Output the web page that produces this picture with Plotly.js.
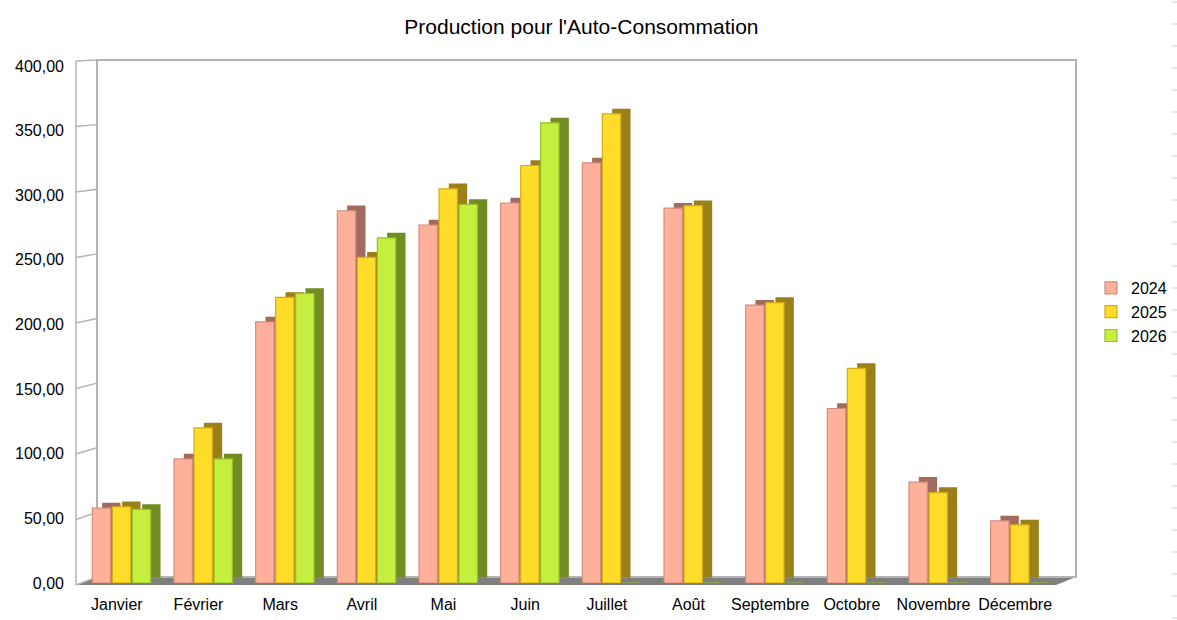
<!DOCTYPE html>
<html>
<head>
<meta charset="utf-8">
<script src="https://cdn.plot.ly/plotly-3.0.1.min.js"></script>
<style>
  html, body { margin: 0; padding: 0; background: #fff; }
  #plot1 { width: 1177px; height: 620px; }
</style>
</head>
<body>
<div id="plot1"></div>
<script>
  var months = ['Janvier', 'Février', 'Mars', 'Avril', 'Mai', 'Juin', 'Juillet', 'Août', 'Septembre', 'Octobre', 'Novembre', 'Décembre'];
  var years = ['2024', '2025', '2026'];

  var prod2024 = [58, 96, 202, 288, 277, 294, 325, 290, 215, 135, 78, 48];
  var prod2025 = [59, 120, 221, 252, 305, 323, 363, 292, 217, 166, 70, 45];
  var prod2026 = [57, 96, 224, 267, 293, 356, 0, 0, 0, 0, 0, 0];

  var yTicks = [0, 50, 100, 150, 200, 250, 300, 350, 400];

  // look of each series: front face, outline, side face
  var faceColors = ['#ffb09a', '#ffdc2a', '#c6ee3e'];
  var lineColors = ['#d48c7a', '#d2ad18', '#98c02a'];
  var sideColors = ['#a36b5e', '#9b7f19', '#728b22'];
  var offsets = [-0.30, -0.055, 0.19];
  var barWidth = 0.225;

  var series = [prod2024, prod2025, prod2026];
  var data = [];

  series.forEach(function (vals, i) {
    // darker copy pushed back and up, fakes the 3D side/top of the bars
    data.push({
      x: months, y: vals, base: 4,
      type: 'bar', xaxis: 'x2', yaxis: 'y2',
      offset: offsets[i] + 0.12, width: barWidth,
      marker: {color: sideColors[i], line: {width: 0}},
      showlegend: false, hoverinfo: 'skip'
    });
    data.push({
      x: months, y: vals,
      name: years[i],
      type: 'bar', xaxis: 'x2', yaxis: 'y2',
      offset: offsets[i], width: barWidth,
      marker: {color: faceColors[i], line: {color: lineColors[i], width: 1.2}}
    });
  });

  // geometry of the fake 3D box (paper coords, paper = 76..1076 x 60..585 px)
  var backX0 = 0.021, backY0 = 8 / 525;
  var frontX1 = 0.98;
  var frontY0 = 2 / 525, frontY1 = 519 / 525;
  var gridColor = '#b3b3b3';

  var shapes = [];
  // floor
  shapes.push({
    type: 'path', xref: 'paper', yref: 'paper', layer: 'between',
    path: 'M 0 0 L ' + frontX1 + ' 0 L 1 ' + backY0 + ' L ' + backX0 + ' ' + backY0 + ' Z',
    fillcolor: '#7f7f7f', line: {width: 0}
  });
  // left wall: front edge + slanted grid lines
  shapes.push({
    type: 'line', xref: 'paper', yref: 'paper', layer: 'below',
    x0: 0, x1: 0, y0: 0, y1: 1 - 1 / 525, line: {color: gridColor, width: 1.5}
  });
  yTicks.forEach(function (v) {
    var yb = backY0 + v / 400 * (1 - backY0);
    var yf = v / 400 * (1 - 1 / 525);
    shapes.push({
      type: 'line', xref: 'paper', yref: 'paper', layer: 'below',
      x0: 0, y0: yf, x1: backX0, y1: yb, line: {color: gridColor, width: 1.5}
    });
  });
  // back wall border
  shapes.push({
    type: 'rect', xref: 'paper', yref: 'paper', layer: 'below',
    x0: backX0, x1: 1, y0: backY0, y1: 1, line: {color: gridColor, width: 2}
  });

  // faint dashes at the right edge of the picture
  for (var py = 2; py < 620; py += 22) {
    shapes.push({
      type: 'line', xref: 'paper', yref: 'paper',
      x0: 1.096, x1: 1.101, y0: (585 - py) / 525, y1: (585 - py) / 525,
      line: {color: '#cccccc', width: 1}
    });
  }

  var layout = {
    width: 1177, height: 620,
    margin: {l: 76, r: 101, t: 60, b: 35, autoexpand: false},
    paper_bgcolor: '#ffffff', plot_bgcolor: 'rgba(0,0,0,0)',
    separators: ', ',
    font: {family: 'Liberation Sans, Arial, sans-serif', size: 16, color: '#000000'},
    title: {
      text: "Production pour l'Auto-Consommation",
      font: {size: 21, color: '#000000'},
      x: 0.494, xanchor: 'center', xref: 'container',
      y: 1 - 27 / 620, yanchor: 'middle', yref: 'container'
    },
    barmode: 'overlay',
    showlegend: true,
    legend: {
      xref: 'container', yref: 'container',
      x: 1091 / 1177, xanchor: 'left', y: 1 - 271 / 620, yanchor: 'top',
      font: {size: 16, color: '#000000'},
      itemwidth: 30, bgcolor: 'rgba(0,0,0,0)', tracegroupgap: 0
    },
    // back wall (grid only)
    xaxis: {domain: [backX0, 1], range: [0, 1], visible: false, fixedrange: true},
    yaxis: {
      domain: [backY0, 1], range: [0, 400], tickvals: yTicks,
      showgrid: true, gridcolor: gridColor, gridwidth: 1.5,
      showticklabels: false, zeroline: false, showline: false, ticks: '', fixedrange: true
    },
    // front plane (bars and labels)
    xaxis2: {
      domain: [0, frontX1], anchor: 'y2', type: 'category',
      range: [-0.5, 11.5], showgrid: false, showline: false, zeroline: false,
      ticks: '', ticklabelstandoff: 10, tickfont: {size: 16}
    },
    yaxis2: {
      domain: [frontY0, frontY1], anchor: 'x2', range: [0, 400],
      tickvals: yTicks, tickformat: '.2f', showgrid: false, zeroline: false,
      showline: false, ticks: '', ticklabelstandoff: 11, tickfont: {size: 16}
    },
    shapes: shapes
  };

  Plotly.newPlot('plot1', data, layout, {displayModeBar: false, staticPlot: true});
</script>
</body>
</html>
